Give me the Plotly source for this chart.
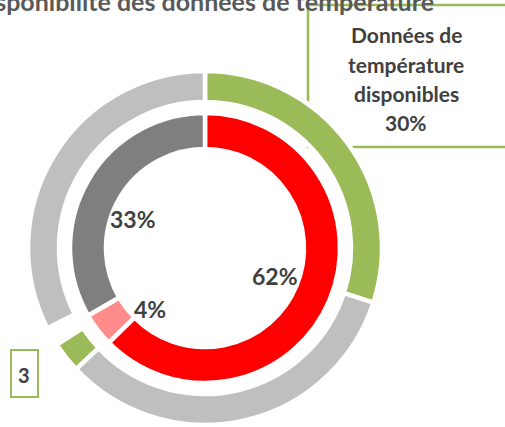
import plotly.graph_objects as go

W, H = 505, 427

# ---- data ----
outer_categories = ["Données de température disponibles", "Non disponibles", "Partielles", "Vide", "Non disponibles (2)"]
outer_values = [30, 33, 2.8, 1.7, 32.5]
outer_colors = ["#9BBB59", "#BFBFBF", "#9BBB59", "#FFFFFF", "#BFBFBF"]

inner_categories = ["Disponibles", "Partielles", "Non disponibles"]
inner_values = [62, 4, 33]
inner_colors = ["#FF0000", "#FF8B8B", "#7F7F7F"]

title_text = "Disponibilité des données de température"
callout_lines = ["Données de", "température", "disponibles", "30%"]
small_label = "3"

# ---- geometry helpers (pixels -> paper) ----
def px(x):
    return x / W

def py(y):
    return (H - y) / H

cx, cy = 205, 248
R_out, R_in = 177, 135

fig = go.Figure()
fig.add_trace(go.Pie(
    labels=outer_categories, values=outer_values, sort=False, direction="clockwise",
    rotation=0, hole=146 / 177, textinfo="none", hoverinfo="label+percent",
    marker=dict(colors=outer_colors, line=dict(color="white", width=4.5)),
    domain=dict(x=[px(cx - R_out), px(cx + R_out)], y=[py(cy + R_out), py(cy - R_out)]),
    showlegend=False,
))
fig.add_trace(go.Pie(
    labels=inner_categories, values=inner_values, sort=False, direction="clockwise",
    rotation=0, hole=99 / 135, textinfo="none", hoverinfo="label+percent",
    marker=dict(colors=inner_colors, line=dict(color="white", width=4.5)),
    domain=dict(x=[px(cx - R_in), px(cx + R_in)], y=[py(cy + R_in), py(cy - R_in)]),
    showlegend=False,
))

FONT = "Lato"
TXT = "#404040"
annotations = []
# inner percentage labels
inner_label_pos = [(275, 276), (150, 309), (133, 219)]
for v, (x, y) in zip(inner_values, inner_label_pos):
    annotations.append(dict(x=px(x), y=py(y), xref="paper", yref="paper", xanchor="center", yanchor="middle",
                            text=f"<b>{v}%</b>", showarrow=False, font=dict(family=FONT, size=23, color=TXT)))
# callout lines
for i, line in enumerate(callout_lines):
    annotations.append(dict(x=px(406), y=py(35 + i * 29), xref="paper", yref="paper", xanchor="center",
                            yanchor="middle", text=f"<b>{line}</b>", showarrow=False,
                            font=dict(family=FONT, size=21, color=TXT)))
# small label
annotations.append(dict(x=px(24), y=py(375), xref="paper", yref="paper", xanchor="center", yanchor="middle",
                        text=f"<b>{small_label}</b>", showarrow=False, font=dict(family=FONT, size=20, color=TXT)))
# title (cut at the top, as in the reference)
annotations.append(dict(x=px(436), y=py(1), xref="paper", yref="paper", xanchor="right", yanchor="middle",
                        text=f"<b>{title_text}</b>", showarrow=False,
                        font=dict(family=FONT, size=25, color="#595959")))

shapes = [
    dict(type="rect", xref="paper", yref="paper", x0=px(308), x1=px(510), y0=py(147), y1=py(5),
         line=dict(color="#9BBB59", width=2.5), fillcolor="rgba(0,0,0,0)", layer="below"),
    dict(type="rect", xref="paper", yref="paper", x0=px(11), x1=px(38), y0=py(397), y1=py(350),
         line=dict(color="#9BBB59", width=2), fillcolor="white", layer="below"),
]

fig.update_layout(
    width=W, height=H, margin=dict(l=0, r=0, t=0, b=0),
    paper_bgcolor="white", plot_bgcolor="white",
    annotations=annotations, shapes=shapes,
)
fig.write_html("out.html", config={"displayModeBar": False},
               post_script="document.body.style.margin='0';")
